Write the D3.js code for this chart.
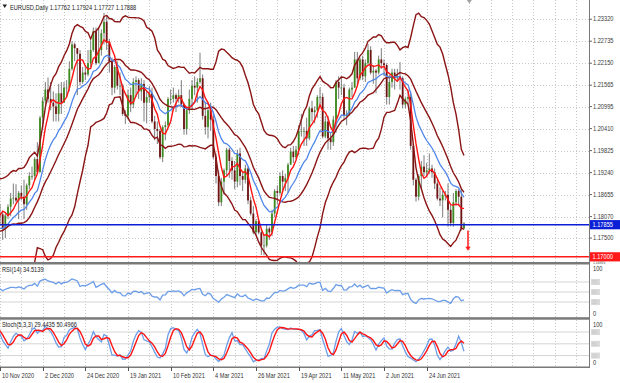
<!DOCTYPE html>
<html><head><meta charset="utf-8">
<script src="https://cdn.jsdelivr.net/npm/d3@7"></script>
<style>body{margin:0;background:#fff}svg{display:block}text{font-family:"Liberation Sans",Arial,sans-serif}</style>
</head><body><svg id="c" width="620" height="383"></svg>
<script>
// ---------- DATA ----------
// warm-up bars (28 Sep 2020 - 9 Nov 2020), only used to seed indicators
const preBars = [
[1.1632,1.1686,1.1627,1.1665],[1.1665,1.1752,1.1660,1.1745],[1.1745,1.1755,1.1685,1.1720],
[1.1720,1.1775,1.1710,1.1750],[1.1750,1.1750,1.1695,1.1715],[1.1715,1.1795,1.1710,1.1780],
[1.1780,1.1810,1.1730,1.1735],[1.1735,1.1790,1.1730,1.1760],[1.1760,1.1790,1.1740,1.1760],
[1.1760,1.1830,1.1755,1.1825],[1.1825,1.1830,1.1790,1.1815],[1.1815,1.1820,1.1735,1.1745],
[1.1745,1.1770,1.1725,1.1745],[1.1745,1.1750,1.1690,1.1705],[1.1705,1.1745,1.1700,1.1715],
[1.1715,1.1780,1.1705,1.1770],[1.1770,1.1830,1.1760,1.1820],[1.1820,1.1880,1.1815,1.1860],
[1.1860,1.1865,1.1800,1.1815],[1.1815,1.1860,1.1805,1.1860],[1.1860,1.1870,1.1800,1.1810],
[1.1810,1.1830,1.1780,1.1795],[1.1795,1.1800,1.1720,1.1745],[1.1745,1.1760,1.1650,1.1675],
[1.1675,1.1710,1.1640,1.1645],[1.1645,1.1670,1.1622,1.1640],[1.1640,1.1720,1.1630,1.1715],
[1.1715,1.1770,1.1602,1.1720],[1.1720,1.1840,1.1710,1.1830],[1.1830,1.1890,1.1815,1.1875],
[1.1875,1.1920,1.1800,1.1815]
];
// visible daily bars [open, high, low, close], 10 Nov 2020 - 14 Jul 2021
const bars = [
[1.1815,1.1840,1.1785,1.1813],[1.1813,1.1820,1.1745,1.1775],[1.1775,1.1815,1.1750,1.1810],
[1.1810,1.1840,1.1800,1.1833],[1.1833,1.1870,1.1808,1.1855],[1.1855,1.1895,1.1840,1.1857],
[1.1857,1.1893,1.1845,1.1850],[1.1850,1.1875,1.1800,1.1870],[1.1870,1.1890,1.1850,1.1860],
[1.1860,1.1905,1.1800,1.1840],[1.1840,1.1895,1.1825,1.1890],[1.1890,1.1925,1.1880,1.1915],
[1.1915,1.1940,1.1905,1.1915],[1.1915,1.1965,1.1905,1.1960],[1.1960,1.2005,1.1925,1.1925],
[1.1925,1.2075,1.1925,1.2070],[1.2070,1.2125,1.2040,1.2115],[1.2115,1.2165,1.2105,1.2145],
[1.2145,1.2177,1.2110,1.2120],[1.2120,1.2165,1.2090,1.2110],[1.2110,1.2140,1.2060,1.2100],
[1.2100,1.2135,1.2060,1.2080],[1.2080,1.2160,1.2060,1.2135],[1.2135,1.2165,1.2080,1.2110],
[1.2110,1.2165,1.2110,1.2150],[1.2150,1.2170,1.2125,1.2150],[1.2150,1.2220,1.2140,1.2200],
[1.2200,1.2273,1.2195,1.2265],[1.2265,1.2270,1.2220,1.2255],[1.2255,1.2255,1.2130,1.2240],
[1.2240,1.2250,1.2155,1.2165],[1.2165,1.2205,1.2160,1.2190],[1.2190,1.2210,1.2170,1.2185],
[1.2185,1.2250,1.2180,1.2215],[1.2215,1.2275,1.2205,1.2250],[1.2250,1.2310,1.2245,1.2300],
[1.2300,1.2310,1.2210,1.2215],[1.2215,1.2310,1.2215,1.2250],[1.2250,1.2305,1.2235,1.2295],
[1.2295,1.2349,1.2265,1.2325],[1.2325,1.2340,1.2250,1.2270],[1.2270,1.2280,1.2190,1.2220],
[1.2220,1.2230,1.2130,1.2150],[1.2150,1.2210,1.2135,1.2205],[1.2205,1.2220,1.2145,1.2155],
[1.2155,1.2190,1.2130,1.2155],[1.2155,1.2160,1.2075,1.2080],[1.2080,1.2090,1.2053,1.2075],
[1.2075,1.2145,1.2065,1.2130],[1.2130,1.2150,1.2085,1.2105],[1.2105,1.2175,1.2095,1.2165],
[1.2165,1.2180,1.2125,1.2170],[1.2170,1.2175,1.2120,1.2140],[1.2140,1.2175,1.2115,1.2160],
[1.2160,1.2170,1.2060,1.2110],[1.2110,1.2140,1.2055,1.2125],[1.2125,1.2155,1.2110,1.2135],
[1.2135,1.2150,1.2055,1.2060],[1.2060,1.2075,1.2010,1.2040],[1.2040,1.2060,1.2000,1.2035],
[1.2035,1.2040,1.1960,1.1965],[1.1965,1.2050,1.1952,1.2045],[1.2045,1.2060,1.2010,1.2050],
[1.2050,1.2125,1.2045,1.2120],[1.2120,1.2145,1.2105,1.2120],[1.2120,1.2150,1.2110,1.2130],
[1.2130,1.2135,1.2085,1.2120],[1.2120,1.2145,1.2110,1.2130],[1.2130,1.2170,1.2100,1.2105],
[1.2105,1.2110,1.2025,1.2040],[1.2040,1.2095,1.2025,1.2090],[1.2090,1.2145,1.2080,1.2120],
[1.2120,1.2170,1.2090,1.2155],[1.2155,1.2180,1.2130,1.2150],[1.2150,1.2175,1.2110,1.2165],
[1.2165,1.2243,1.2160,1.2175],[1.2175,1.2185,1.2065,1.2075],[1.2075,1.2110,1.2025,1.2045],
[1.2045,1.2095,1.2015,1.2090],[1.2090,1.2110,1.2035,1.2065],[1.2065,1.2085,1.1960,1.1965],
[1.1965,1.1975,1.1895,1.1915],[1.1915,1.1930,1.1835,1.1845],[1.1845,1.1910,1.1835,1.1900],
[1.1900,1.1935,1.1865,1.1930],[1.1930,1.1990,1.1915,1.1985],[1.1985,1.1990,1.1910,1.1955],
[1.1955,1.1965,1.1905,1.1930],[1.1930,1.1955,1.1880,1.1900],[1.1900,1.1985,1.1885,1.1975],
[1.1975,1.1990,1.1890,1.1915],[1.1915,1.1925,1.1875,1.1905],[1.1905,1.1945,1.1895,1.1935],
[1.1935,1.1940,1.1840,1.1850],[1.1850,1.1860,1.1810,1.1815],[1.1815,1.1835,1.1760,1.1765],
[1.1765,1.1800,1.1760,1.1795],[1.1795,1.1800,1.1760,1.1765],[1.1765,1.1775,1.1705,1.1730],
[1.1730,1.1760,1.1704,1.1730],[1.1730,1.1785,1.1725,1.1775],[1.1775,1.1780,1.1745,1.1765],
[1.1765,1.1825,1.1755,1.1815],[1.1815,1.1880,1.1805,1.1875],[1.1875,1.1890,1.1840,1.1870],
[1.1870,1.1925,1.1865,1.1915],[1.1915,1.1930,1.1870,1.1900],[1.1900,1.1920,1.1875,1.1910],
[1.1910,1.1950,1.1870,1.1945],[1.1945,1.1990,1.1945,1.1980],[1.1980,1.1995,1.1950,1.1965],
[1.1965,1.1995,1.1960,1.1985],[1.1985,1.2050,1.1970,1.2035],[1.2035,1.2080,1.2020,1.2035],
[1.2035,1.2045,1.1995,1.2035],[1.2035,1.2070,1.1995,1.2015],[1.2015,1.2100,1.2010,1.2095],
[1.2095,1.2115,1.2060,1.2085],[1.2085,1.2100,1.2055,1.2090],[1.2090,1.2130,1.2070,1.2125],
[1.2125,1.2150,1.2100,1.2125],[1.2125,1.2135,1.2015,1.2020],[1.2020,1.2075,1.2015,1.2060],
[1.2060,1.2075,1.1985,1.2015],[1.2015,1.2030,1.1985,1.2005],[1.2005,1.2075,1.1995,1.2065],
[1.2065,1.2170,1.2030,1.2165],[1.2165,1.2180,1.2120,1.2150],[1.2150,1.2180,1.2130,1.2150],
[1.2150,1.2160,1.2065,1.2075],[1.2075,1.2090,1.2050,1.2080],[1.2080,1.2150,1.2075,1.2145],
[1.2145,1.2165,1.2125,1.2150],[1.2150,1.2245,1.2150,1.2225],[1.2225,1.2245,1.2155,1.2175],
[1.2175,1.2230,1.2170,1.2225],[1.2225,1.2235,1.2170,1.2180],[1.2180,1.2225,1.2165,1.2215],
[1.2215,1.2266,1.2210,1.2250],[1.2250,1.2260,1.2185,1.2190],[1.2190,1.2210,1.2160,1.2195],
[1.2195,1.2200,1.2135,1.2190],[1.2190,1.2235,1.2185,1.2225],[1.2225,1.2255,1.2200,1.2215],
[1.2215,1.2225,1.2180,1.2210],[1.2210,1.2215,1.2105,1.2125],[1.2125,1.2185,1.2105,1.2165],
[1.2165,1.2200,1.2150,1.2190],[1.2190,1.2200,1.2145,1.2175],[1.2175,1.2200,1.2165,1.2180],
[1.2180,1.2218,1.2145,1.2175],[1.2175,1.2180,1.2095,1.2105],[1.2105,1.2125,1.2095,1.2120],
[1.2120,1.2145,1.2105,1.2125],[1.2125,1.2140,1.1985,1.1995],[1.1995,1.2000,1.1890,1.1905],
[1.1905,1.1910,1.1847,1.1860],[1.1860,1.1920,1.1850,1.1915],[1.1915,1.1955,1.1880,1.1940],
[1.1940,1.1970,1.1915,1.1925],[1.1925,1.1950,1.1915,1.1930],[1.1930,1.1975,1.1920,1.1935],
[1.1935,1.1945,1.1910,1.1925],[1.1925,1.1935,1.1880,1.1895],[1.1895,1.1905,1.1850,1.1855],
[1.1855,1.1885,1.1835,1.1850],[1.1850,1.1875,1.1805,1.1865],[1.1865,1.1875,1.1850,1.1865],
[1.1865,1.1895,1.1780,1.1825],[1.1825,1.1840,1.1781,1.1790],[1.1790,1.1870,1.1780,1.1845],
[1.1845,1.1880,1.1835,1.1875],[1.1875,1.1880,1.1835,1.1860],[1.1860,1.1880,1.1770,1.1775],
[1.17762,1.17924,1.17727,1.17888]
];
const dateTicks = [[0,"10 Nov 2020"],[16,"2 Dec 2020"],[32,"24 Dec 2020"],[48,"19 Jan 2021"],
  [64,"10 Feb 2021"],[80,"4 Mar 2021"],[96,"26 Mar 2021"],[112,"19 Apr 2021"],
  [128,"11 May 2021"],[144,"2 Jun 2021"],[160,"24 Jun 2021"]];
const priceTicks = [1.23320,1.22735,1.22150,1.21565,1.20995,1.20410,1.19825,1.19240,1.18655,1.18070,1.17500];
const cutTick = 1.16915;   // bottom label, mostly hidden under the red price box
const hLines = [{p:1.17855,color:"#0a1fd6",label:"1.17855"},{p:1.17000,color:"#ff1a1a",label:"1.17000"}];
const arrowBar = 175.5, arrowFrom = 1.1770, arrowTo = 1.1716;
const shiftMarkerBar = 176;
const rsiLevels = [70,50,30];
const stochLevels = [80,50,20];
const titleText = "EURUSD,Daily  1.17762 1.17924 1.17727 1.17888";
const rsiText = "RSI(14) 34.5139";
const stochText = "Stoch(5,3,3) 29.4435 50.4966";
const bbPeriod = 20, bbDev = 2, fastMA = 5, slowEMA = 14, rsiPeriod = 14, stK = 5, stSlow = 3, stD = 3;

// ---------- INDICATORS ----------
const all = preBars.concat(bars), off = preBars.length;
const closes = all.map(d=>d[3]);
const sma = (a,n)=>a.map((v,i)=> i<n-1?null:d3.mean(a.slice(i-n+1,i+1)));
function ema(a,n){const k=2/(n+1);let e=null;return a.map((v,i)=>{if(i<n-1)return null;if(e===null)e=d3.mean(a.slice(0,n));else e=e+k*(v-e);return e;});}
const mid = sma(closes,bbPeriod);
const sd = closes.map((v,i)=>{if(i<bbPeriod-1)return null;const w=closes.slice(i-bbPeriod+1,i+1),m=mid[i];return Math.sqrt(d3.mean(w,x=>(x-m)*(x-m)));});
const upper = mid.map((m,i)=>m==null?null:m+bbDev*sd[i]);
const lower = mid.map((m,i)=>m==null?null:m-bbDev*sd[i]);
const fast = sma(closes,fastMA);
const slow = ema(closes,slowEMA);
function rsi(a,n){const out=a.map(()=>null);let g=0,l=0;for(let i=1;i<=n;i++){const d=a[i]-a[i-1];if(d>0)g+=d;else l-=d;}g/=n;l/=n;out[n]=100-100/(1+g/l);
  for(let i=n+1;i<a.length;i++){const d=a[i]-a[i-1];g=(g*(n-1)+Math.max(d,0))/n;l=(l*(n-1)+Math.max(-d,0))/n;out[i]=l===0?100:100-100/(1+g/l);}return out;}
const rsiV = rsi(closes,rsiPeriod);
const LL=[],HH=[];all.forEach((b,i)=>{if(i<stK-1){LL.push(null);HH.push(null);return;}const w=all.slice(i-stK+1,i+1);LL.push(d3.min(w,d=>d[2]));HH.push(d3.max(w,d=>d[1]));});
const stMain = all.map((b,i)=>{if(i<stK+stSlow-2)return null;let n=0,d=0;for(let j=i-stSlow+1;j<=i;j++){n+=all[j][3]-LL[j];d+=HH[j]-LL[j];}return d===0?100:100*n/d;});
const stSig = stMain.map((v,i)=>i<stK+stSlow+stD-3?null:d3.mean(stMain.slice(i-stD+1,i+1)));

// ---------- LAYOUT ----------
const svg = d3.select("#c");
const R = 589.5;
const xs = d3.scaleLinear().domain([0,221.25]).range([0,590]);
const yP = d3.scaleLinear().domain([1.168626,1.238306]).range([262,0]);
const yR = d3.scaleLinear().domain([0,100]).range([317,267]);
const yS = d3.scaleLinear().domain([0,100]).range([363.4,324.2]);
const panels = [{id:"pm",y0:0,y1:262},{id:"pr",y0:265,y1:317},{id:"ps",y0:320,y1:366.5}];
const defs = svg.append("defs");
panels.forEach(p=>defs.append("clipPath").attr("id",p.id).append("rect").attr("x",0).attr("y",p.y0).attr("width",R).attr("height",p.y1-p.y0));
defs.append("clipPath").attr("id","cutlab").append("rect").attr("x",590).attr("y",261.6).attr("width",30).attr("height",2.6);
svg.append("rect").attr("width",620).attr("height",383).attr("fill","#fff");

// grid
const gridBars = d3.range(0,222,8);
panels.forEach(p=>{
  svg.append("g").selectAll("line").data(gridBars).join("line")
    .attr("x1",d=>Math.round(xs(d))+0.5).attr("x2",d=>Math.round(xs(d))+0.5).attr("y1",p.y0).attr("y2",p.y1)
    .attr("stroke","#c8c8c8").attr("stroke-dasharray","1,2").attr("stroke-width",1);
});
svg.append("g").selectAll("line").data(priceTicks).join("line")
  .attr("x1",0).attr("x2",R).attr("y1",d=>Math.round(yP(d))+0.5).attr("y2",d=>Math.round(yP(d))+0.5)
  .attr("stroke","#c8c8c8").attr("stroke-dasharray","1,2");
// indicator levels
svg.append("g").selectAll("line").data(rsiLevels).join("line").attr("x1",0).attr("x2",R)
  .attr("y1",d=>yR(d)).attr("y2",d=>yR(d)).attr("stroke","#d4d4d4").attr("stroke-width",1);
svg.append("g").selectAll("line").data(stochLevels).join("line").attr("x1",0).attr("x2",R)
  .attr("y1",d=>yS(d)).attr("y2",d=>yS(d)).attr("stroke","#d4d4d4").attr("stroke-width",1);

// candles
const gm = svg.append("g").attr("clip-path","url(#pm)");
const cd = all.map((b,j)=>({i:j-off,o:b[0],h:b[1],l:b[2],c:b[3]})).filter(d=>d.i>=-2);
gm.append("g").selectAll("line").data(cd).join("line")
  .attr("x1",d=>xs(d.i)).attr("x2",d=>xs(d.i)).attr("y1",d=>yP(d.h)).attr("y2",d=>yP(d.l))
  .attr("stroke","#5a5a5a").attr("stroke-width",0.8);
gm.append("g").selectAll("rect").data(cd).join("rect")
  .attr("x",d=>xs(d.i)-0.9).attr("width",1.8)
  .attr("y",d=>yP(Math.max(d.o,d.c))).attr("height",d=>Math.max(0.8,Math.abs(yP(d.o)-yP(d.c))))
  .attr("fill",d=>d.c>=d.o?"#3d8b1f":"#6e1212");

// lines
const mk = (arr,y)=>d3.line().defined(d=>d.v!=null).x(d=>xs(d.i)).y(d=>y(d.v))(arr.map((v,j)=>({i:j-off,v})));
[[upper,"#8b1414"],[mid,"#8b1414"],[lower,"#8b1414"]].forEach(([a,c])=>gm.append("path").attr("d",mk(a,yP)).attr("fill","none").attr("stroke",c).attr("stroke-width",1.4));
gm.append("path").attr("d",mk(slow,yP)).attr("fill","none").attr("stroke","#4f86ea").attr("stroke-width",1.3);
gm.append("path").attr("d",mk(fast,yP)).attr("fill","none").attr("stroke","#ff1414").attr("stroke-width",1.4);

// horizontal lines
hLines.forEach(h=>svg.append("line").attr("x1",0).attr("x2",R).attr("y1",yP(h.p)).attr("y2",yP(h.p)).attr("stroke",h.color).attr("stroke-width",1.5));
// arrow
const ax = xs(arrowBar);
svg.append("line").attr("x1",ax).attr("x2",ax).attr("y1",yP(arrowFrom)).attr("y2",yP(arrowTo)-3).attr("stroke","#ff1a1a").attr("stroke-width",1.5);
svg.append("path").attr("d",`M${ax-2.6},${yP(arrowTo)-4}L${ax+2.6},${yP(arrowTo)-4}L${ax},${yP(arrowTo)}Z`).attr("fill","#ff1a1a");
// shift marker
const sx = xs(shiftMarkerBar);
svg.append("path").attr("d",`M${sx-2.5},0L${sx+2.5},0L${sx},3.5Z`).attr("fill","#a0a0a0");

// RSI & stochastic
const gr = svg.append("g").attr("clip-path","url(#pr)");
gr.append("path").attr("d",mk(rsiV,yR)).attr("fill","none").attr("stroke","#6b9de8").attr("stroke-width",1.3);
const gs = svg.append("g").attr("clip-path","url(#ps)");
gs.append("path").attr("d",mk(stMain,yS)).attr("fill","none").attr("stroke","#6b9de8").attr("stroke-width",1.3);
gs.append("path").attr("d",mk(stSig,yS)).attr("fill","none").attr("stroke","#ff1414").attr("stroke-width",1.4);

// frame
svg.append("rect").attr("x",0).attr("y",262).attr("width",R+0.5).attr("height",2.5).attr("fill","#7a7a7a");
svg.append("rect").attr("x",0).attr("y",317.2).attr("width",R+0.5).attr("height",2.5).attr("fill","#7a7a7a");
svg.append("rect").attr("x",0).attr("y",366.5).attr("width",R+0.5).attr("height",1.5).attr("fill","#7a7a7a");
svg.append("line").attr("x1",R).attr("x2",R).attr("y1",0).attr("y2",368).attr("stroke","#7a7a7a").attr("stroke-width",1);

// text helper
const SQ = 0.86;
function txt(x,y,s,opt={},parent=svg){return parent.append("text").attr("transform",`translate(${x},${y}) scale(${SQ},1)`)
  .attr("font-size",opt.size||6.6).attr("fill",opt.fill||"#333").text(s);}

// price axis
const gpa = svg.append("g");
priceTicks.forEach(p=>{
  gpa.append("line").attr("x1",R).attr("x2",R+2.5).attr("y1",yP(p)).attr("y2",yP(p)).attr("stroke","#666");
});
priceTicks.forEach(p=>txt(593,yP(p)+2.3,p.toFixed(5),{fill:"#3a3a3a"}));
hLines.forEach(h=>{
  svg.append("rect").attr("x",590).attr("y",yP(h.p)-4.6).attr("width",30).attr("height",9.2).attr("fill",h.color);
  txt(592.5,yP(h.p)+2.4,h.label,{fill:"#fff"});
});
// partially visible bottom label peeking out under the red box
const gcut = svg.append("g").attr("clip-path","url(#cutlab)");
txt(593,264.2,cutTick.toFixed(5),{fill:"#3a3a3a",size:4},gcut);

// subwindow scales
txt(593,271.4,"100"); txt(593,yR(0)-1.5,"0");
txt(593,yS(100)+2.5,"100"); txt(593,yS(0)+1.5,"0");
rsiLevels.forEach(v=>{svg.append("rect").attr("x",591).attr("y",yR(v)-3).attr("width",9).attr("height",6).attr("fill","#dadada");
  txt(592,yR(v)+2,String(v),{size:5,fill:"#c4c4c4"});});
stochLevels.forEach(v=>{svg.append("rect").attr("x",591).attr("y",yS(v)-3).attr("width",9).attr("height",6).attr("fill","#dadada");
  txt(592,yS(v)+2,String(v),{size:5,fill:"#c4c4c4"});});

// time axis
dateTicks.forEach(([i,s])=>{
  const x = Math.round(xs(i))+0.5;
  svg.append("line").attr("x1",x).attr("x2",x).attr("y1",367).attr("y2",371).attr("stroke","#555");
  txt(x+1.5,377.5,s,{fill:"#333"});
});

// titles
svg.append("path").attr("d","M2.5,4.5L7,4.5L4.75,8Z").attr("fill","#222");
txt(10,9.5,titleText,{fill:"#222"});
txt(2,272,rsiText,{fill:"#222"});
txt(2,327,stochText,{fill:"#222"});
</script></body></html>
